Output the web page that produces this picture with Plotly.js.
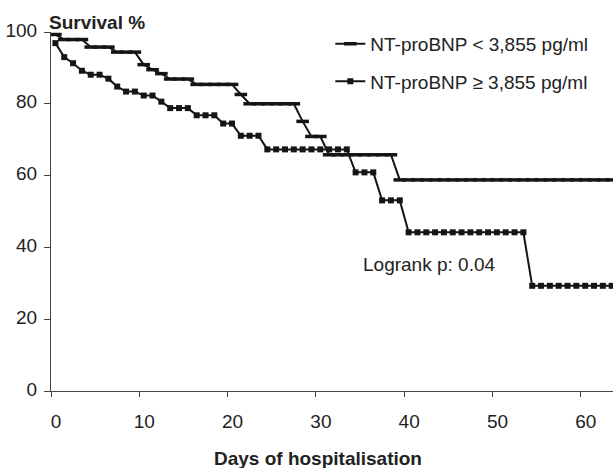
<!DOCTYPE html>
<html>
<head>
<meta charset="utf-8">
<script src="https://cdn.plot.ly/plotly-3.0.1.min.js"></script>
<style>html,body{margin:0;padding:0;background:#fff;}#chart{width:613px;height:468px;}</style>
</head>
<body>
<div id="chart"></div>
<script>
// Day index (one point per day of hospitalisation)
const days = [0,1,2,3,4,5,6,7,8,9,10,11,12,13,14,15,16,17,18,19,20,21,22,23,24,25,26,27,28,29,30,31,
  32,33,34,35,36,37,38,39,40,41,42,43,44,45,46,47,48,49,50,51,52,53,54,55,56,57,58,59,60,61,62,63];

// Survival % for NT-proBNP < 3,855 pg/ml
const survivalLow = [99.3,97.9,97.9,97.9,95.8,95.8,95.8,94.4,94.4,94.4,90.9,89.5,88.4,86.9,86.9,86.9,
  85.4,85.4,85.4,85.4,85.4,82.6,80.0,80.0,80.0,80.0,80.0,80.0,75.1,70.9,70.9,65.8,
  65.8,65.8,65.8,65.8,65.8,65.8,65.8,58.8,58.8,58.8,58.8,58.8,58.8,58.8,58.8,58.8,
  58.8,58.8,58.8,58.8,58.8,58.8,58.8,58.8,58.8,58.8,58.8,58.8,58.8,58.8,58.8,58.8];

// Survival % for NT-proBNP >= 3,855 pg/ml
const survivalHigh = [96.9,93.0,91.3,89.2,88.1,88.1,87.0,84.8,83.4,83.4,82.3,82.3,80.6,78.8,78.8,78.8,
  76.8,76.8,76.8,74.5,74.5,71.1,71.1,71.1,67.3,67.3,67.3,67.3,67.3,67.3,67.3,67.3,
  67.3,67.3,60.9,60.9,60.9,53.1,53.1,53.1,44.2,44.2,44.2,44.2,44.2,44.2,44.2,44.2,
  44.2,44.2,44.2,44.2,44.2,44.2,29.3,29.3,29.3,29.3,29.3,29.3,29.3,29.3,29.3,29.3];

const seriesNames = ['NT-proBNP < 3,855 pg/ml', 'NT-proBNP \u2265 3,855 pg/ml'];
const xTickLabels = ['0','10','20','30','40','50','60'];
const yTickLabels = ['0','20','40','60','80','100'];

const FONT = 'Liberation Sans, Arial, Helvetica, sans-serif';
const INK = '#151515';

const traces = [
  {
    x: days, y: survivalLow, name: seriesNames[0], legendgroup: 'a',
    type: 'scatter', mode: 'lines+markers',
    line: {color: INK, width: 2},
    marker: {symbol: 'line-ew', size: 9, color: INK, line: {color: INK, width: 3.5}}
  },
  {
    x: days, y: survivalHigh, name: seriesNames[1], legendgroup: 'b',
    type: 'scatter', mode: 'lines+markers',
    line: {color: INK, width: 2},
    marker: {symbol: 'square', size: 6, color: INK, line: {width: 0}}
  }
];

const layout = {
  width: 613, height: 468,
  margin: {l: 51, r: 0, t: 32, b: 77, pad: 0},
  paper_bgcolor: '#fff', plot_bgcolor: '#fff',
  font: {family: FONT, size: 19, color: '#222'},
  showlegend: true,
  legend: {
    x: 0.497, xanchor: 'left', y: 1.02, yanchor: 'top',
    bgcolor: 'rgba(0,0,0,0)', borderwidth: 0,
    font: {family: FONT, size: 19, color: '#222'},
    tracegroupgap: 10, traceorder: 'grouped'
  },
  xaxis: {
    range: [-0.5, 63.15],
    tickvals: xTickLabels.map(t => Number(t) - 0.5),
    ticktext: xTickLabels,
    ticks: 'outside', ticklen: 5, tickwidth: 1, tickcolor: '#444',
    ticklabelshift: 5, ticklabelstandoff: 8,
    showline: true, linecolor: '#444', linewidth: 1,
    showgrid: false, zeroline: false,
    tickfont: {family: FONT, size: 19, color: '#222'}
  },
  yaxis: {
    range: [0, 100],
    tickvals: yTickLabels.map(Number),
    ticktext: yTickLabels,
    ticks: 'outside', ticklen: 6, tickwidth: 1, tickcolor: '#444',
    ticklabelstandoff: 3, ticklabelshift: -2,
    showline: true, linecolor: '#444', linewidth: 1,
    showgrid: false, zeroline: false,
    tickfont: {family: FONT, size: 19, color: '#222'}
  },
  annotations: [
    {text: '<b>Survival %</b>', xref: 'paper', yref: 'paper', x: -0.007, y: 1.026,
     xanchor: 'left', yanchor: 'middle', showarrow: false,
     font: {family: FONT, size: 19, color: '#222'}},
    {text: '<b>Days of hospitalisation</b>', xref: 'paper', yref: 'paper', x: 0.475, y: -0.187,
     xanchor: 'center', yanchor: 'middle', showarrow: false,
     font: {family: FONT, size: 19, color: '#222'}},
    {text: 'Logrank p: 0.04', xref: 'paper', yref: 'paper', x: 0.5516, y: 0.351,
     xanchor: 'left', yanchor: 'middle', showarrow: false,
     font: {family: FONT, size: 19, color: '#222'}}
  ]
};

Plotly.newPlot('chart', traces, layout, {displayModeBar: false, staticPlot: true});
</script>
</body>
</html>
